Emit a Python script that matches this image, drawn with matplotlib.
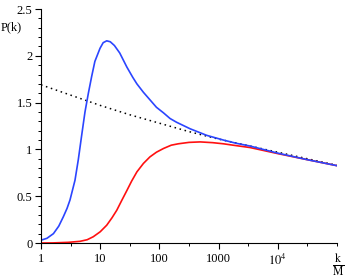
import numpy as np
import matplotlib.pyplot as plt
from matplotlib.ticker import FixedLocator, NullFormatter

plt.rcParams['font.family'] = ['Liberation Serif', 'DejaVu Serif']
plt.rcParams['mathtext.fontset'] = 'stix'

# values (log10 k, P)
blue_logk = [0.0, 0.1, 0.21, 0.30, 0.377, 0.44, 0.49, 0.574, 0.63, 0.687, 0.743,
             0.80, 0.856, 0.91, 0.997, 1.05, 1.11, 1.17, 1.24, 1.33, 1.45, 1.55,
             1.62, 1.73, 1.84, 1.95, 2.07, 2.18, 2.29, 2.52, 2.8, 3.08, 3.3,
             3.53, 4.0, 4.5, 5.0]
blue_P = [0.03, 0.05, 0.10, 0.18, 0.28, 0.37, 0.46, 0.67, 0.89, 1.15, 1.40,
          1.60, 1.78, 1.94, 2.08, 2.14, 2.16, 2.15, 2.11, 2.03, 1.88, 1.77,
          1.70, 1.61, 1.53, 1.45, 1.39, 1.33, 1.29, 1.22, 1.15, 1.10, 1.065,
          1.036, 0.96, 0.89, 0.826]

red_logk = [0.0, 0.2, 0.46, 0.66, 0.78, 0.883, 1.0, 1.11, 1.2, 1.28, 1.36,
            1.45, 1.53, 1.62, 1.73, 1.84, 1.95, 2.07, 2.2, 2.32, 2.5, 2.69,
            2.9, 3.08, 3.3, 3.53, 4.0, 4.5, 5.0]
red_P = [0.0, 0.001, 0.007, 0.018, 0.035, 0.067, 0.12, 0.19, 0.27, 0.35, 0.45,
         0.56, 0.66, 0.76, 0.85, 0.92, 0.97, 1.01, 1.045, 1.06, 1.075, 1.08,
         1.072, 1.06, 1.04, 1.02, 0.955, 0.89, 0.826]

dot_logk = [0.0, 0.5, 1.0, 1.5, 2.0, 2.5, 3.0, 3.5, 4.0, 4.5, 5.0]
dot_P = [1.69, 1.58, 1.47, 1.37, 1.28, 1.19, 1.11, 1.04, 0.97, 0.90, 0.83]

xticks = [1, 10, 100, 1000, 10000]
xticklabels = ['1', '10', '100', '1000', r'$10^4$']
yticks = [0, 0.5, 1, 1.5, 2, 2.5]
yticklabels = ['0', '0.5', '1', '1.5', '2', '2.5']

fig = plt.figure(figsize=(3.46, 2.77), dpi=100)
ax = fig.add_axes([41/346, 1 - 243/277, 296/346, 234/277])

ax.plot(10**np.array(dot_logk), dot_P, color='black', linestyle=(0, (1, 2.4)), linewidth=1.1)
ax.plot(10**np.array(red_logk), red_P, color='#ff1010', linewidth=1.2)
ax.plot(10**np.array(blue_logk), blue_P, color='#2b45ff', linewidth=1.2)

ax.set_xscale('log')
ax.set_xlim(1, 1e5)
ax.set_ylim(0, 2.5)
for s in ['top', 'right']:
    ax.spines[s].set_visible(False)
for s in ['left', 'bottom']:
    ax.spines[s].set_linewidth(0.8)
    ax.spines[s].set_clip_on(False)

ax.xaxis.set_major_locator(FixedLocator(xticks))
ax.set_xticklabels(xticklabels)
ax.xaxis.set_minor_locator(FixedLocator([10**(i + 0.5) for i in range(5)] + [1e5]))
ax.xaxis.set_minor_formatter(NullFormatter())
ax.set_yticks(yticks)
ax.set_yticklabels(yticklabels)
ax.yaxis.set_minor_locator(FixedLocator(np.arange(0, 2.51, 0.1)))

ax.tick_params(axis='both', which='major', length=4, width=0.8, labelsize=9, pad=2)
ax.tick_params(axis='both', which='minor', length=2.5, width=0.7)
ax.tick_params(axis='x', which='major', pad=3)

fig.text(1/346, 1 - 27/277, 'P(k)', fontsize=9, ha='left', va='center')
fig.text(338/346, 1 - 265/277, r'$\frac{\mathrm{k}}{\mathrm{M}}$', fontsize=12, ha='center', va='center')

fig.savefig('out.png', dpi=100)
